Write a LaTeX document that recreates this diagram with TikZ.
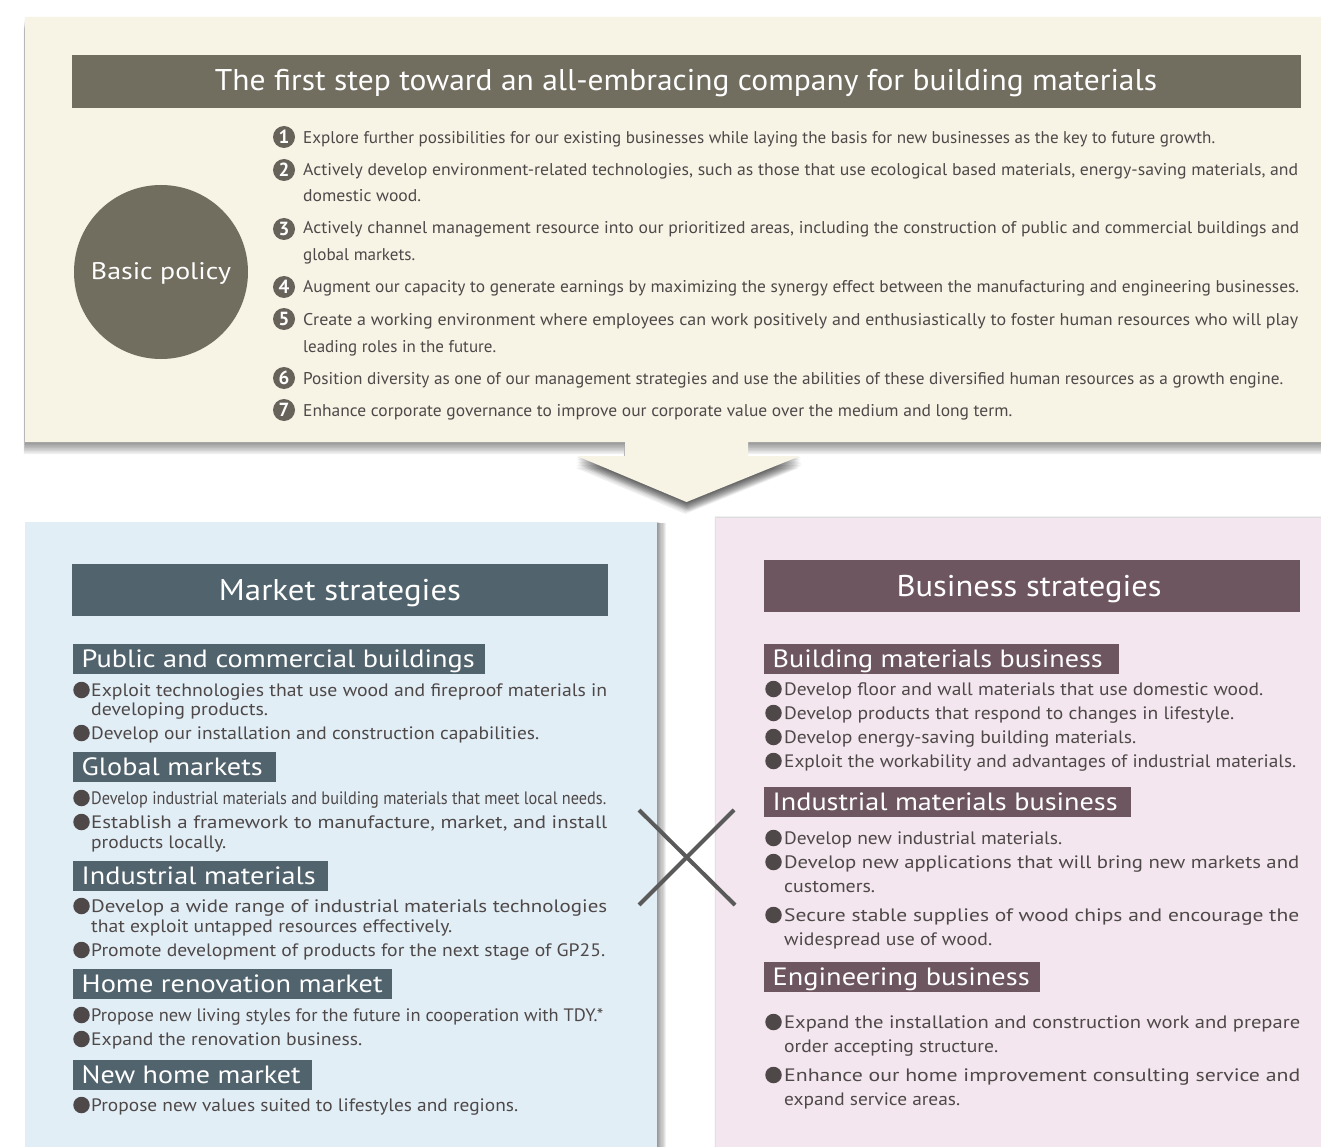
\documentclass[tikz,border=0pt]{standalone}
\usepackage{fontspec}
\usepackage{graphicx}
\setmainfont{PT Sans}

\definecolor{topbg}{HTML}{F7F4E6}
\definecolor{topbar}{HTML}{716D5F}
\definecolor{numfill}{HTML}{67625A}
\definecolor{mktbg}{HTML}{E1EEF6}
\definecolor{mktbar}{HTML}{51646E}
\definecolor{bizbg}{HTML}{F3E6EE}
\definecolor{bizbar}{HTML}{6E5660}
\definecolor{ink}{HTML}{4E4848}
\definecolor{crossgray}{HTML}{5A5A5A}

% squeeze or stretch a line of text to a given width (in px units)
\newcommand\fitw[2]{\resizebox{#1pt}{\height}{#2}}

% soft shadow: a path filled repeatedly with small offsets
\newcommand\softshade[4]{%
  \foreach \k in {1,...,8}{\fill[black,opacity=#3,shift={(#1*\k,#2*\k)}] #4;}}

% bullet item: name, bullet x, baseline, text x, width, text
\newcommand\bitem[6]{%
  \node[dot] (#1-dot) at (#2+0.5,#3-6.5) {};
  \node[txt] (#1) at (#4,#3) {\fitw{#5}{#6}};}

% plain continuation line: name, x, baseline, width, text
\newcommand\contline[5]{\node[txt] (#1) at (#2,#3) {\fitw{#4}{#5}};}

% sub heading: name, x1, y1, x2, y2, colour, text, text width
\newcommand\shead[8]{%
  \fill[#6] (#2,#3) rectangle (#4,#5);
  \node[hd] (#1) at (#2+8.5,#5-7) {\fitw{#8}{#7}};}

\tikzset{
  txt/.style={text=ink, inner sep=0pt, anchor=base west,
    font=\fontsize{18}{20}\selectfont},
  toptxt/.style={text=ink, inner sep=0pt, anchor=base west,
    font=\fontsize{17}{19}\selectfont},
  hd/.style={text=white, inner sep=0pt, anchor=base west,
    font=\fontsize{25}{27}\selectfont},
  bartxt/.style={text=white, inner sep=0pt, anchor=base,
    font=\fontsize{30}{32}\selectfont},
  dot/.style={circle, fill=ink, minimum size=16.5pt, inner sep=0pt},
  num/.style={circle, fill=numfill, minimum size=22pt, inner sep=0pt,
    text=white, font=\fontsize{19}{19}\selectfont\bfseries},
}

\begin{document}
\begin{tikzpicture}[x=1pt,y=-1pt]
\useasboundingbox (0,0) rectangle (1321,1147);
\clip (0,0) rectangle (1321,1147);
\fill[white] (0,0) rectangle (1321,1147);

% ---------- top panel with the downward arrow ----------
\def\toppath{(25,17) -- (1340,17) -- (1340,442) -- (748,442) -- (748,456)
  -- (800,456) -- (686.5,502) -- (577,456) -- (625,456) -- (625,442)
  -- (25,442) -- cycle}
\softshade{-0.15}{1.5}{0.06}{\toppath}
\softshade{0.3}{1.2}{0.045}{(577,456) -- (800,456) -- (686.5,502) -- cycle}
\fill[topbg] \toppath;

% ---------- lower panels ----------
\softshade{1.1}{0.15}{0.06}{(25,522) rectangle (657,1160)}
\fill[mktbg] (25,522) rectangle (657,1160);
\softshade{-0.2}{-0.3}{0.02}{(716,518) rectangle (1340,1160)}
\fill[bizbg] (716,518) rectangle (1340,1160);

% ---------- title bar ----------
\fill[topbar] (72,55) rectangle (1301,108);
\node[bartxt] (title) at (686,91)
  {\fitw{942}{The first step toward an all-embracing company for building materials}};

% ---------- basic policy ----------
\node[circle, fill=topbar, minimum size=174pt, inner sep=0pt] (policy) at (161,272) {};
\node[text=white, inner sep=0pt, anchor=base, font=\fontsize{24}{26}\selectfont]
  (policytxt) at (161,280) {\fitw{140}{Basic policy}};

\node[num] (n1) at (284,137) {1};
\node[num] (n2) at (284,170) {2};
\node[num] (n3) at (284,229) {3};
\node[num] (n4) at (284,287) {4};
\node[num] (n5) at (284,319) {5};
\node[num] (n6) at (284,378) {6};
\node[num] (n7) at (284,410) {7};

\node[toptxt] (p1) at (303,144) {\fitw{912}{Explore further possibilities for our existing businesses while laying the basis for new businesses as the key to future growth.}};
\node[toptxt] (p2) at (303,176) {\fitw{995}{Actively develop environment-related technologies, such as those that use ecological based materials, energy-saving materials, and}};
\node[toptxt] (p2b) at (303,202) {\fitw{118}{domestic wood.}};
\node[toptxt] (p3) at (303,234) {\fitw{996}{Actively channel management resource into our prioritized areas, including the construction of public and commercial buildings and}};
\node[toptxt] (p3b) at (303,261) {\fitw{112}{global markets.}};
\node[toptxt] (p4) at (303,293) {\fitw{996}{Augment our capacity to generate earnings by maximizing the synergy effect between the manufacturing and engineering businesses.}};
\node[toptxt] (p5) at (303,325) {\fitw{995}{Create a working environment where employees can work positively and enthusiastically to foster human resources who will play}};
\node[toptxt] (p5b) at (303,352) {\fitw{193}{leading roles in the future.}};
\node[toptxt] (p6) at (303,384) {\fitw{980}{Position diversity as one of our management strategies and use the abilities of these diversified human resources as a growth engine.}};
\node[toptxt] (p7) at (303,416) {\fitw{709}{Enhance corporate governance to improve our corporate value over the medium and long term.}};

% ---------- market strategies ----------
\fill[mktbar] (72,564) rectangle (608,616);
\node[bartxt] (mkt) at (340,600) {\fitw{242}{Market strategies}};

\shead{h-pub}{73}{644}{485}{674}{mktbar}{Public and commercial buildings}{393}
\bitem{m1}{81}{696.5}{91}{516}{Exploit technologies that use wood and fireproof materials in}
\contline{m1b}{91}{715.5}{177}{developing products.}
\bitem{m2}{81}{739.5}{91}{448}{Develop our installation and construction capabilities.}

\shead{h-glo}{73}{752}{276}{782}{mktbar}{Global markets}{181}
\bitem{m3}{81}{804.5}{91}{515}{Develop industrial materials and building materials that meet local needs.}
\bitem{m4}{81}{828.5}{91}{516}{Establish a framework to manufacture, market, and install}
\contline{m4b}{91}{848.5}{135}{products locally.}

\shead{h-ind}{73}{861}{328}{891}{mktbar}{Industrial materials}{234}
\bitem{m5}{81}{912.5}{91}{516}{Develop a wide range of industrial materials technologies}
\contline{m5b}{91}{932.5}{361}{that exploit untapped resources effectively.}
\bitem{m6}{81}{956.5}{91}{514}{Promote development of products for the next stage of GP25.}

\shead{h-ren}{73}{969}{392}{999}{mktbar}{Home renovation market}{301}
\bitem{m7}{81}{1021.5}{91}{512}{Propose new living styles for the future in cooperation with TDY.*}
\bitem{m8}{81}{1045.5}{91}{271}{Expand the renovation business.}

\shead{h-new}{73}{1060}{312}{1090}{mktbar}{New home market}{219}
\bitem{m9}{81}{1111.5}{91}{427}{Propose new values suited to lifestyles and regions.}

% ---------- business strategies ----------
\fill[bizbar] (764,560) rectangle (1300,612);
\node[bartxt] (biz) at (1029,596) {\fitw{265}{Business strategies}};

\shead{h-bld}{764}{644}{1119}{674}{bizbar}{Building materials business}{330}
\bitem{b1}{773}{695.5}{784}{479}{Develop floor and wall materials that use domestic wood.}
\bitem{b2}{773}{719.5}{784}{450}{Develop products that respond to changes in lifestyle.}
\bitem{b3}{773}{743.5}{784}{352}{Develop energy-saving building materials.}
\bitem{b4}{773}{767.5}{784}{512}{Exploit the workability and advantages of industrial materials.}

\shead{h-imb}{764}{787}{1131}{817}{bizbar}{Industrial materials business}{345}
\bitem{b5}{773}{844.5}{784}{278}{Develop new industrial materials.}
\bitem{b6}{773}{868.5}{784}{515}{Develop new applications that will bring new markets and}
\contline{b6b}{784}{892.5}{91}{customers.}
\bitem{b7}{773}{921.5}{784}{515}{Secure stable supplies of wood chips and encourage the}
\contline{b7b}{784}{945.5}{208}{widespread use of wood.}

\shead{h-eng}{764}{962}{1040}{992}{bizbar}{Engineering business}{257}
\bitem{b8}{773}{1028.5}{784}{516}{Expand the installation and construction work and prepare}
\contline{b8b}{784}{1052.5}{214}{order accepting structure.}
\bitem{b9}{773}{1081.5}{784}{516}{Enhance our home improvement consulting service and}
\contline{b9b}{784}{1105.5}{176}{expand service areas.}

% ---------- cross between the two strategy panels ----------
\coordinate (xa) at (639,810);
\coordinate (xb) at (735,905);
\coordinate (xc) at (734,810);
\coordinate (xd) at (639,905);
\draw[crossgray, line width=4pt] (xa) -- (xb);
\draw[crossgray, line width=4pt] (xc) -- (xd);
\end{tikzpicture}
\end{document}
